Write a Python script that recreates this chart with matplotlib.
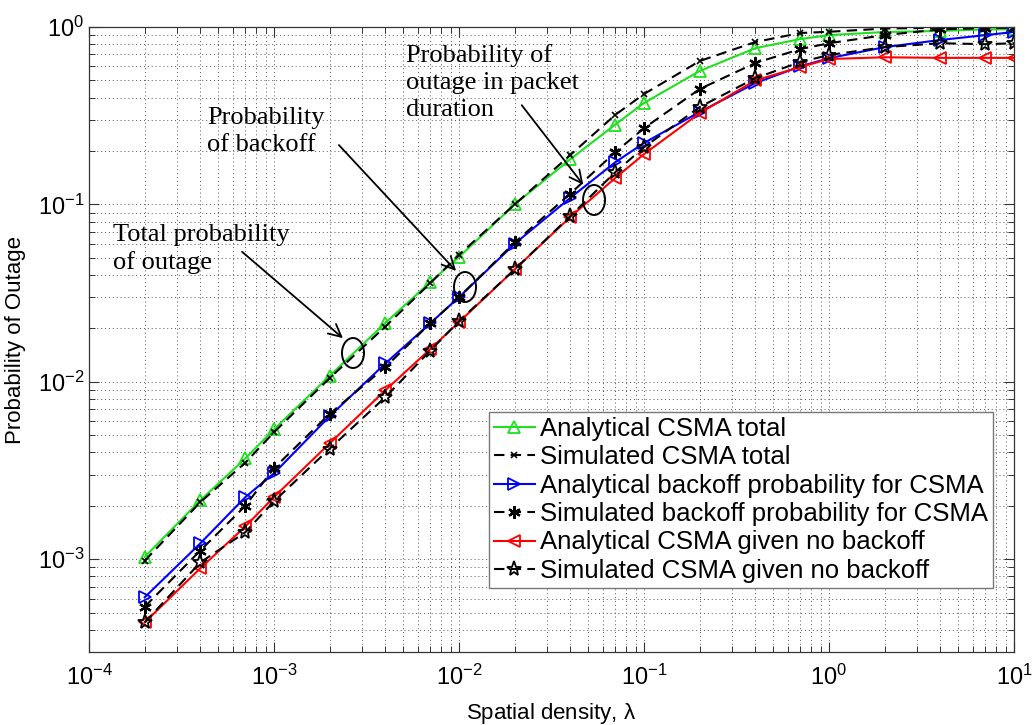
import matplotlib
matplotlib.use("Agg")
import matplotlib.pyplot as plt
from matplotlib.patches import Ellipse
from matplotlib.ticker import LogLocator, NullFormatter

# Spatial density values
density = [2e-4, 4e-4, 7e-4, 1e-3, 2e-3, 4e-3, 7e-3, 1e-2, 2e-2, 4e-2,
           7e-2, 1e-1, 2e-1, 4e-1, 7e-1, 1, 2, 4, 7, 10]

# Outage probabilities
analytical_total = [1.03e-3, 2.15e-3, 3.7e-3, 5.4e-3, 1.08e-2, 2.15e-2, 3.65e-2, 5.05e-2,
                    0.100, 0.180, 0.282, 0.373, 0.565, 0.76, 0.855, 0.90, 0.937, 0.95, 0.97, 0.97]
simulated_total = [0.98e-3, 2.1e-3, 3.5e-3, 5.2e-3, 1.05e-2, 2.05e-2, 3.6e-2, 5.2e-2,
                   0.100, 0.190, 0.320, 0.419, 0.643, 0.823, 0.925, 0.94, 0.98, 0.99, 0.99, 0.99]
analytical_backoff = [6.1e-4, 1.23e-3, 2.24e-3, 3.05e-3, 6.4e-3, 1.27e-2, 2.14e-2, 3.0e-2,
                      0.060, 0.109, 0.173, 0.222, 0.332, 0.483, 0.60, 0.667, 0.77, 0.845, 0.90, 0.937]
simulated_backoff = [5.4e-4, 1.12e-3, 2.0e-3, 3.26e-3, 6.6e-3, 1.21e-2, 2.14e-2, 3.0e-2,
                     0.061, 0.115, 0.197, 0.269, 0.447, 0.627, 0.751, 0.81, 0.90, 0.97, 0.985, 0.99]
analytical_nobackoff = [4.4e-4, 8.9e-4, 1.53e-3, 2.24e-3, 4.5e-3, 8.97e-3, 1.53e-2, 2.17e-2,
                        0.043, 0.085, 0.141, 0.192, 0.327, 0.50, 0.595, 0.66, 0.675, 0.67, 0.67, 0.67]
simulated_nobackoff = [4.4e-4, 9.6e-4, 1.42e-3, 2.12e-3, 4.2e-3, 8.2e-3, 1.5e-2, 2.2e-2,
                       0.043, 0.086, 0.152, 0.21, 0.354, 0.515, 0.635, 0.695, 0.77, 0.81, 0.80, 0.81]

series_labels = ["Analytical CSMA total", "Simulated CSMA total",
                 "Analytical backoff probability for CSMA", "Simulated backoff probability for CSMA",
                 "Analytical CSMA given no backoff", "Simulated CSMA given no backoff"]

plt.rcParams["font.family"] = ["Liberation Sans", "DejaVu Sans"]
plt.rcParams["mathtext.fontset"] = "custom"
plt.rcParams["mathtext.rm"] = "Liberation Sans"
plt.rcParams["mathtext.it"] = "Liberation Sans"
plt.rcParams["axes.unicode_minus"] = False

fig = plt.figure(figsize=(10.34, 7.25), dpi=100)
ax = fig.add_axes([89 / 1034, 1 - 652 / 725, 925 / 1034, 625 / 725])

green = "#1ee01e"
dash = (0, (5, 3))
asterisk = (6, 2, 0)
ax.plot(density, analytical_total, color=green, lw=1.5, marker="^", ms=9,
        mfc="none", mec=green, mew=1.3, label=series_labels[0])
ax.plot(density, simulated_total, color="k", lw=1.5, ls=dash, marker="x", ms=5,
        mew=1.2, label=series_labels[1])
ax.plot(density, analytical_backoff, color="#0000ff", lw=1.5, marker=">", ms=9,
        mfc="none", mec="#0000ff", mew=1.3, label=series_labels[2])
ax.plot(density, simulated_backoff, color="k", lw=1.5, ls=dash, marker=asterisk, ms=9,
        mew=1.6, label=series_labels[3])
ax.plot(density, analytical_nobackoff, color="#ff0000", lw=1.5, marker="<", ms=9,
        mfc="none", mec="#ff0000", mew=1.3, label=series_labels[4])
ax.plot(density, simulated_nobackoff, color="k", lw=1.5, ls=dash, marker="*", ms=11,
        mfc="none", mew=1.3, label=series_labels[5])

ax.set_xscale("log")
ax.set_yscale("log")
ax.set_xlim(1e-4, 10)
ax.set_ylim(3e-4, 1)

ax.xaxis.set_major_locator(LogLocator(base=10, numticks=20))
ax.yaxis.set_major_locator(LogLocator(base=10, numticks=20))
ax.xaxis.set_minor_locator(LogLocator(base=10, subs=range(2, 10), numticks=100))
ax.yaxis.set_minor_locator(LogLocator(base=10, subs=range(2, 10), numticks=100))
ax.xaxis.set_minor_formatter(NullFormatter())
ax.yaxis.set_minor_formatter(NullFormatter())

ax.grid(True, which="both", ls=(0, (1, 3)), color="#555555", lw=0.7)
ax.tick_params(which="both", direction="in", top=True, right=True, labelsize=17, color="#333333")
ax.tick_params(which="major", length=7, width=0.8)
ax.tick_params(axis="x", which="major", pad=9)
ax.tick_params(which="minor", length=4, width=0.7)
for s in ax.spines.values():
    s.set_color("#333333")
    s.set_linewidth(0.9)

ax.set_xlabel(r"Spatial density, $\lambda$", fontsize=16, labelpad=8)
ax.set_ylabel("Probability of Outage", fontsize=16, labelpad=8)

leg = ax.legend(loc="lower left", bbox_to_anchor=(0.432, 0.1024), fontsize=18.5,
                handlelength=1.6, handletextpad=0.2, borderpad=0.2, labelspacing=0.17,
                borderaxespad=0.0, fancybox=False, framealpha=1, edgecolor="#777777")
leg.get_frame().set_linewidth(1.0)

# Annotations with ellipses marking each curve family
serif = ["Liberation Serif", "DejaVu Serif"]
notes = [
    ("Total probability\nof outage", (0.0259, 0.6848), (0.1632, 0.6432), (0.2768, 0.4992), (0.2854, 0.4784)),
    ("Probability\nof backoff", (0.1276, 0.872), (0.2681, 0.8144), (0.3989, 0.6064), (0.4065, 0.584)),
    ("Probability of\noutage in packet\nduration", (0.3427, 0.9728), (0.466, 0.8784), (0.5362, 0.744), (0.546, 0.7232)),
]
for text, tpos, start, end, ell in notes:
    ax.text(tpos[0], tpos[1], text, transform=ax.transAxes, fontsize=19, family=serif,
            va="top", ha="left", linespacing=1.28)
    ax.annotate("", xy=end, xytext=start, xycoords="axes fraction", textcoords="axes fraction",
                arrowprops=dict(arrowstyle="->,head_length=0.9,head_width=0.45", color="k", lw=1.3))
    ax.add_patch(Ellipse(ell, 0.0238, 0.048, transform=ax.transAxes, fill=False,
                         ec="k", lw=1.4, zorder=5))

fig.savefig("out.png", dpi=100)
